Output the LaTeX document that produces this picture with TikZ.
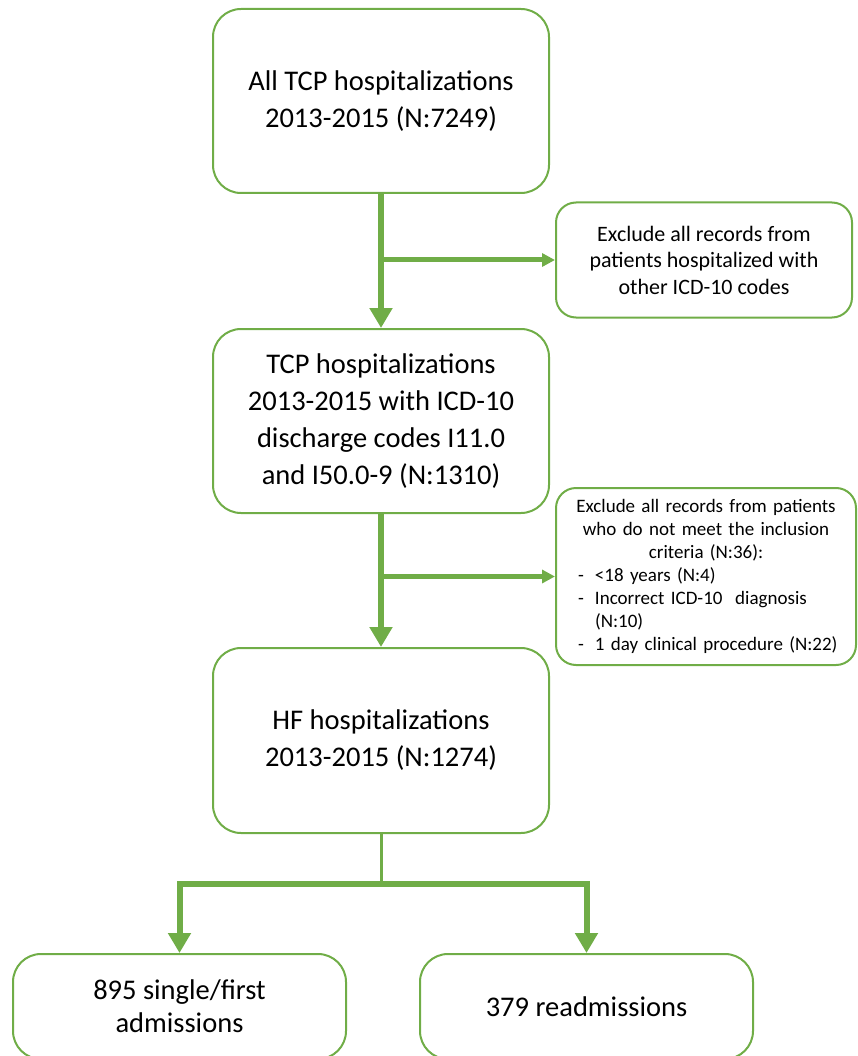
\documentclass[tikz,border=0pt]{standalone}
\usepackage{fontspec}
\setmainfont{Carlito}
\usepackage{tikz}
\usetikzlibrary{arrows.meta,positioning}
\definecolor{flowgreen}{HTML}{70AD47}
\tikzstyle{box}    = [draw=flowgreen, line width=2pt, rounded corners=28pt, align=center, inner sep=0pt, minimum width=336pt, text=black, font=\fontsize{28.5}{37}\selectfont]
\tikzstyle{exbox}  = [draw=flowgreen, line width=2pt, rounded corners=20pt, align=center, inner sep=0pt, text=black]
\tikzstyle{endbox} = [box, minimum width=333pt, minimum height=105pt, font=\fontsize{28.5}{33}\selectfont]
\tikzstyle{trunk}  = [draw=flowgreen, line width=6pt, -{Triangle[width=22pt,length=20pt]}]
\tikzstyle{side}   = [draw=flowgreen, line width=5pt, -{Triangle[width=13pt,length=13pt]}]
\tikzstyle{stem}   = [draw=flowgreen, line width=3pt]

\begin{document}
\begin{tikzpicture}[x=1pt,y=-1pt]
	\useasboundingbox (0,0) rectangle (858,1056);
	\node[box, minimum height=184pt] (all) at (381,101) {All TCP hospitalizations\\2013-2015 (N:7249)};
	\node[box, minimum height=184pt] (icd) at (381,421) {TCP hospitalizations\\2013-2015 with ICD-10\\discharge codes I11.0\\and I50.0-9 (N:1310)};
	\node[box, minimum height=185pt] (hf) at (381,740.5) {HF hospitalizations\\2013-2015 (N:1274)};
	\node[exbox, minimum width=296pt, minimum height=115pt, font=\fontsize{22}{26.5}\selectfont] (other) at (704,260) {Exclude all records from\\patients hospitalized with\\other ICD-10 codes};
	\node[exbox, minimum width=300pt, minimum height=177pt, text width=280pt, align=left, font=\fontsize{19}{23}\selectfont] (crit) at (706,576.5) {{\centering Exclude all records from patients\\who do not meet the inclusion\\criteria (N:36):\par}
		\hspace*{12pt}\makebox[17pt][l]{-}<18 years (N:4)\\
		\hspace*{12pt}\makebox[17pt][l]{-}Incorrect ICD-10~ diagnosis\\
		\hspace*{29pt}(N:10)\\
		\hspace*{12pt}\makebox[17pt][l]{-}1 day clinical procedure (N:22)};
	\node[endbox] (single) at (179.5,1006.5) {895 single/first\\admissions};
	\node[endbox] (readm) at (586.5,1006.5) {379 readmissions};
	\coordinate[below=50pt of hf.south] (split);

	\draw[trunk] (all.south) -- (icd.north);
	\draw[side] (all.south |- other.west) -- (other.west);
	\draw[trunk] (icd.south) -- (hf.north);
	\draw[side] (icd.south |- crit.west) -- (crit.west);
	\draw[stem] (hf.south) -- (split);
	\draw[trunk] (split) -| (single.north);
	\draw[trunk] (split) -| (readm.north);
\end{tikzpicture}
\end{document}
